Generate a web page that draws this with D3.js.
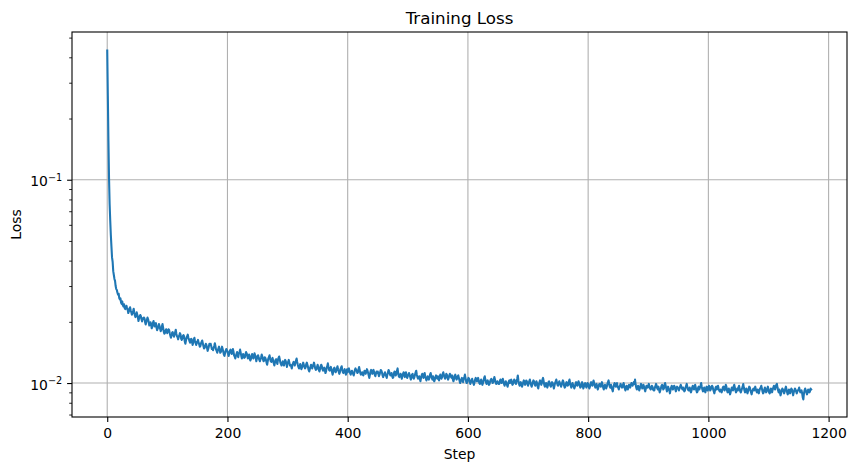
<!DOCTYPE html>
<html><head><meta charset="utf-8">
<script src="https://cdn.jsdelivr.net/npm/d3@7"></script>
<style>
body{margin:0;background:#fff}
svg{display:block}
text{font-family:"DejaVu Sans",sans-serif;fill:#000}
</style>
</head><body>
<svg id="c" width="857" height="470"></svg>
<script>
const titleText = "Training Loss";
const xLabelText = "Step";
const yLabelText = "Loss";
const xTicks = [0, 200, 400, 600, 800, 1000, 1200];
const yMajorTicks = [0.1, 0.01];
const yMajorLabels = [["10", "\u22121"], ["10", "\u22122"]];
const yMinorTicks = [0.007, 0.008, 0.009, 0.02, 0.03, 0.04, 0.05, 0.06, 0.07, 0.08, 0.09, 0.2, 0.3, 0.4, 0.5];

// training loss per step (step = index), in units of 1e-5
const lossTimes1e5 = [
43700,26000,15500,10200,7600,6300,5350,4700,4150,3950,3550,3400,3250,3180,3000,2900,2870,2780,2720,2750,2620,2580,2610,2490,2450,2520,2410,2380,2440,2340,
2310,2340,2400,2340,2290,2210,2250,2320,2360,2280,2230,2170,2210,2260,2320,2220,2150,2110,2170,2230,2170,2100,2020,2080,2130,2160,2130,2060,2010,2080,
2070,2100,2080,1990,1940,2000,2050,2100,2060,1990,1920,1940,1990,1940,1860,1890,1980,2020,1950,1900,1960,1970,1870,1820,1850,1900,1950,1910,1850,1800,1830,1900,1950,1870,1790,1750,1760,1810,1840,1780,
1760,1810,1840,1820,1760,1710,1670,1720,1770,1780,1720,1690,1730,1780,1830,1750,1700,1680,1640,1690,1720,1760,1730,1650,1630,1660,1710,1720,1690,1600,1560,1620,1670,1700,1730,1670,1640,1600,1580,1640,1650,1600,1540,1570,1640,1670,1610,1580,1540,1580,
1600,1630,1580,1550,1510,1520,1570,1590,1620,1570,1520,1480,1490,1520,1560,1540,1490,1440,1470,1510,1560,1540,1560,1520,1470,1480,1450,1490,1520,1570,1520,1460,1440,1410,1450,1480,1510,1460,1410,1420,1460,1510,1470,1430,1380,1360,1400,1440,1470,1450,
1430,1390,1360,1400,1440,1460,1420,1390,1440,1470,1430,1370,1350,1320,1360,1390,1420,1370,1340,1400,1420,1460,1410,1360,1320,1350,1390,1360,1330,1340,1390,1420,1400,1360,1320,1350,1380,1330,1290,1310,1360,1390,1360,1320,1340,1400,1370,1330,1280,1320,
1360,1370,1330,1300,1280,1310,1340,1380,1350,1310,1280,1290,1340,1330,1300,1260,1230,1280,1320,1340,1370,1320,1280,1270,1310,1330,1290,1250,1220,1260,1300,1310,1270,1240,1300,1330,1350,1310,1260,1240,1220,1250,1280,1240,1220,1270,1300,1280,1240,1200,
1250,1270,1300,1260,1220,1230,1210,1180,1220,1250,1270,1260,1220,1260,1290,1320,1270,1230,1200,1180,1210,1240,1200,1170,1190,1230,1260,1230,1200,1180,1190,1240,1260,1230,1200,1160,1140,1170,1200,1230,1210,1180,1210,1230,1260,1220,1180,1160,1170,1200,
1230,1200,1160,1140,1170,1210,1230,1210,1170,1150,1170,1190,1160,1120,1140,1190,1210,1250,1200,1160,1150,1180,1200,1170,1130,1100,1140,1180,1190,1150,1130,1150,1180,1210,1170,1140,1110,1130,1170,1190,1210,1160,1130,1120,1150,1170,1140,1100,1120,1170,
1130,1170,1180,1150,1120,1100,1130,1150,1130,1110,1090,1120,1160,1180,1160,1150,1120,1130,1170,1200,1160,1120,1100,1110,1130,1100,1090,1120,1150,1140,1110,1140,1170,1150,1120,1090,1060,1100,1140,1160,1150,1110,1140,1160,1130,1100,1080,1110,1140,1120,
1140,1110,1080,1100,1130,1160,1150,1130,1090,1070,1090,1110,1130,1100,1080,1060,1100,1130,1160,1140,1110,1090,1100,1120,1080,1060,1070,1120,1140,1130,1090,1110,1150,1180,1120,1080,1070,1090,1110,1090,1050,1080,1110,1130,1100,1070,1120,1130,1080,1060,
1080,1100,1120,1100,1070,1040,1060,1100,1110,1070,1050,1070,1100,1130,1150,1100,1070,1050,1060,1080,1050,1020,1060,1090,1110,1100,1060,1100,1120,1080,1050,1030,1060,1080,1060,1040,1060,1100,1120,1090,1060,1040,1080,1040,1020,1040,1070,1090,1070,1050,
1080,1050,1030,1070,1100,1080,1050,1070,1110,1130,1100,1070,1050,1070,1110,1100,1060,1040,1060,1090,1110,1100,1070,1060,1090,1040,1020,1050,1080,1100,1070,1040,1050,1080,1090,1060,1030,1000,1020,1040,1060,1030,1010,1050,1070,1100,1060,1020,1000,1010,
1040,1060,1050,1020,990,1010,1030,1050,1020,1000,980,1010,1040,1060,1040,1020,1040,1060,1030,1000,990,1010,1040,1010,980,1000,1030,1060,1080,1040,1010,990,1010,1030,1000,980,990,1020,1040,1050,1030,1000,1010,1040,1070,1040,1010,990,1000,1020,
1000,990,990,1020,1040,1020,1000,1030,1050,1020,990,970,1000,1020,1000,980,960,990,1020,1030,1000,1030,1040,1010,980,990,1020,1040,1030,1000,990,1020,1050,1090,1030,990,970,990,1010,980,960,980,1010,1030,1010,980,1000,1030,1020,990,
970,990,1020,1040,1010,980,960,980,1010,1030,1020,990,970,990,1020,1000,960,940,980,1010,1030,1010,980,1000,1040,1060,1020,980,960,970,1000,980,950,970,1010,1020,1000,970,960,990,1010,1000,970,940,970,1000,1020,1040,1010,980,
970,1000,1020,1000,980,960,980,1010,1030,1010,970,950,960,990,1010,1000,970,980,1020,1040,1000,970,950,970,1000,980,960,940,960,990,1010,1000,970,990,1020,1000,970,950,960,990,1010,970,940,960,990,1000,980,950,970,1000,
990,960,940,960,990,1010,990,970,1000,1030,1000,970,950,970,990,960,930,950,980,990,980,960,990,1010,980,950,930,960,980,960,940,960,990,1010,1030,990,960,950,980,950,930,910,950,980,1000,980,960,990,1000,960,
950,930,960,970,990,970,950,950,980,1000,970,940,920,940,970,950,930,960,980,970,950,980,1000,980,970,990,1010,990,1040,980,950,930,950,970,940,920,940,970,990,970,940,950,980,960,930,910,940,970,970,950,
970,990,960,940,930,940,970,960,930,920,920,950,970,990,970,940,930,960,930,900,920,940,970,980,960,930,940,980,1000,970,940,910,930,960,940,920,890,920,950,970,960,930,960,970,960,930,910,940,960,950,
940,920,940,960,980,960,940,930,950,930,910,920,950,970,990,960,930,920,920,950,920,900,920,950,970,950,930,960,980,950,920,900,910,950,960,930,950,970,1000,960,930,910,930,950,920,900,930,960,950,920,
950,970,950,920,930,960,970,960,930,910,890,920,950,960,930,950,970,940,920,910,930,920,900,920,950,960,940,920,950,980,960,920,900,910,940,910,880,900,930,950,940,920,960,980,950,920,900,920,940,920,
950,970,940,910,900,920,940,960,990,950,920,900,910,940,920,890,910,940,960,950,920,900,880,910,930,940,920,940,960,930,910,900,930,910,890,920,940,950,970,940,910,890,900,930,950,930,900,910,940,960,
930,900,890,910,940,930,900,930,950,970,940,930,960,980,990,950,920,900,930,900,870,890,920,940,930,910,890,910,940,960,930,900,880,900,930,910,890,920,940,930,900,870,900,920,940,930,910,890,910,920,
930,950,920,900,910,920,890,850,830,890,920,940,920,900,880,900,930,920,900,910,940,930,920
];
const loss = lossTimes1e5.map(v => v / 1e5);
const steps = loss.map((_, i) => i);

const lineColor = "#1f77b4";
const L = 72, R = 847, T = 32, B = 417;
const svg = d3.select("#c");

const xExt = d3.extent(steps), xPad = (xExt[1] - xExt[0]) * 0.05;
const x = d3.scaleLinear().domain([xExt[0] - xPad, xExt[1] + xPad]).range([L, R]);
const lExt = d3.extent(loss).map(Math.log10), lPad = (lExt[1] - lExt[0]) * 0.05;
const y = d3.scaleLog().domain([10 ** (lExt[0] - lPad), 10 ** (lExt[1] + lPad)]).range([B, T]);

// grid
const grid = svg.append("g").attr("stroke", "#b0b0b0").attr("stroke-width", 1.1);
grid.selectAll(".gx").data(xTicks).join("line")
  .attr("x1", d => x(d)).attr("x2", d => x(d)).attr("y1", T).attr("y2", B);
grid.selectAll(".gy").data(yMajorTicks).join("line")
  .attr("y1", d => y(d)).attr("y2", d => y(d)).attr("x1", L).attr("x2", R);

// line
svg.append("path").datum(steps)
  .attr("fill", "none").attr("stroke", lineColor).attr("stroke-width", 2.08)
  .attr("stroke-linejoin", "round")
  .attr("d", d3.line().x(i => x(steps[i])).y(i => y(loss[i])));

// spines
svg.append("rect").attr("x", L).attr("y", T).attr("width", R - L).attr("height", B - T)
  .attr("fill", "none").attr("stroke", "#000").attr("stroke-width", 1.1);

// x axis
const xAxis = svg.append("g").attr("transform", `translate(0,${B})`)
  .call(d3.axisBottom(x).tickValues(xTicks).tickSize(4.9).tickPadding(4.9).tickFormat(d3.format("d")));
xAxis.select(".domain").remove();
xAxis.selectAll("line").attr("stroke", "#000").attr("stroke-width", 1.1);
xAxis.selectAll("text").attr("font-size", "13.9px").attr("font-family", "DejaVu Sans").attr("dy", null).attr("y", 21);

// y axis minor
const yMin = svg.append("g").attr("transform", `translate(${L},0)`)
  .call(d3.axisLeft(y).tickValues(yMinorTicks).tickSize(2.8).tickFormat(""));
yMin.select(".domain").remove();
yMin.selectAll("line").attr("stroke", "#000").attr("stroke-width", 0.85);

// y axis major
const yMaj = svg.append("g").attr("transform", `translate(${L},0)`)
  .call(d3.axisLeft(y).tickValues(yMajorTicks).tickSize(4.9).tickPadding(4.9).tickFormat(""));
yMaj.select(".domain").remove();
yMaj.selectAll("line").attr("stroke", "#000").attr("stroke-width", 1.1);
yMaj.selectAll("text").each(function(d, i) {
  const t = d3.select(this).attr("dy", null).attr("y", 6).attr("font-size", "13.9px").attr("font-family", "DejaVu Sans");
  t.text(null);
  t.append("tspan").text(yMajorLabels[i][0]);
  t.append("tspan").attr("font-size", "9.7px").attr("dy", -5.5).text(yMajorLabels[i][1]);
});

// labels
svg.append("text").attr("x", (L + R) / 2).attr("y", 23.5).attr("text-anchor", "middle")
  .attr("font-size", "16.7px").text(titleText);
svg.append("text").attr("x", (L + R) / 2).attr("y", 459).attr("text-anchor", "middle")
  .attr("font-size", "13.9px").text(xLabelText);
svg.append("text").attr("transform", `translate(21,${(T + B) / 2}) rotate(-90)`).attr("text-anchor", "middle")
  .attr("font-size", "13.9px").text(yLabelText);
</script>
</body></html>
